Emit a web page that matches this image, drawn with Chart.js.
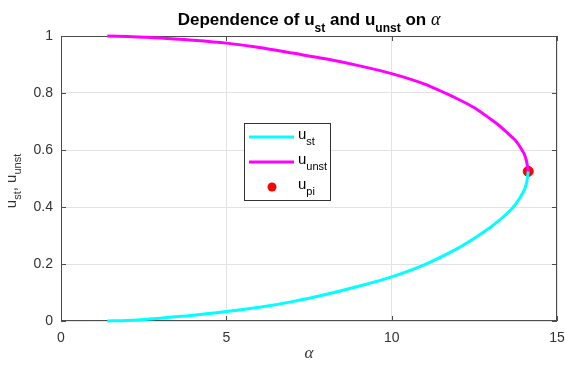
<!DOCTYPE html>
<html>
<head>
<meta charset="utf-8">
<script src="https://cdn.jsdelivr.net/npm/chart.js@4/dist/chart.umd.min.js"></script>
<style>
  html, body { margin: 0; padding: 0; background: #fff; }
  #wrap { width: 565px; height: 371px; }
</style>
</head>
<body>
<div id="wrap"><canvas id="myChart" width="565" height="371"></canvas></div>
<script>
// stable branch u_st(alpha)
let stAlpha = [1.4, 2, 3, 4, 5, 6, 7, 8, 9, 10, 11, 12, 12.5, 13, 13.25, 13.5, 13.75, 14, 14.08, 14.13];
let stU = [0, 0.002, 0.01, 0.02, 0.033, 0.048, 0.068, 0.093, 0.122, 0.155, 0.198, 0.255, 0.29, 0.33, 0.353, 0.378, 0.41, 0.457, 0.485, 0.525];
// unstable branch u_unst(alpha)
let unstAlpha = [1.4, 2, 3, 4, 5, 6, 7, 8, 9, 10, 11, 12, 12.5, 13, 13.25, 13.5, 13.75, 14, 14.08, 14.13];
let unstU = [1.0, 0.998, 0.993, 0.985, 0.975, 0.96, 0.94, 0.92, 0.896, 0.868, 0.831, 0.779, 0.748, 0.708, 0.686, 0.66, 0.633, 0.588, 0.56, 0.525];
// turning point
let piAlpha = [14.13];
let piU = [0.525];

let xTicks = [0, 5, 10, 15];
let yTicks = [0, 0.2, 0.4, 0.6, 0.8, 1];

let font = "'Liberation Sans', Arial, Helvetica, sans-serif";
let serif = "'Liberation Serif', 'DejaVu Serif', serif";
let axisColor = "#4d4d4d";
let textColor = "#333333";

function toPoints(xs, ys) {
  let pts = [];
  for (let i = 0; i < xs.length; i++) pts.push({ x: xs[i], y: ys[i] });
  return pts;
}

// draws a string made of parts, some as subscripts
function drawRich(ctx, parts, x, y, align) {
  let widths = parts.map((p) => {
    ctx.font = p.font;
    return ctx.measureText(p.t).width;
  });
  let total = widths.reduce((s, w) => s + w, 0);
  let cx = align == "center" ? x - total / 2 : x;
  ctx.textAlign = "left";
  ctx.textBaseline = "alphabetic";
  for (let i = 0; i < parts.length; i++) {
    ctx.font = parts[i].font;
    ctx.fillText(parts[i].t, cx, y + (parts[i].dy || 0));
    cx += widths[i];
  }
}

const boxPlugin = {
  id: "boxPlugin",
  beforeDatasetsDraw(chart) {
    const { ctx, chartArea: a, scales } = chart;
    ctx.save();
    ctx.strokeStyle = axisColor;
    ctx.lineWidth = 1;
    ctx.strokeRect(a.left + 0.5, a.top + 0.5, a.right - a.left - 1, a.bottom - a.top - 1);
    // inward ticks like matlab
    ctx.beginPath();
    xTicks.forEach((v) => {
      let px = Math.round(scales.x.getPixelForValue(v)) + 0.5;
      ctx.moveTo(px, a.bottom); ctx.lineTo(px, a.bottom - 5);
      ctx.moveTo(px, a.top); ctx.lineTo(px, a.top + 5);
    });
    yTicks.forEach((v) => {
      let py = Math.round(scales.y.getPixelForValue(v)) + 0.5;
      ctx.moveTo(a.left, py); ctx.lineTo(a.left + 5, py);
      ctx.moveTo(a.right, py); ctx.lineTo(a.right - 5, py);
    });
    ctx.stroke();
    ctx.restore();
  },
  afterDraw(chart) {
    const { ctx, chartArea: a } = chart;
    ctx.save();
    ctx.fillStyle = "#000";
    let cx = (a.left + a.right) / 2;

    // title
    let tb = "bold 17px " + font;
    let ts = "bold 12px " + font;
    drawRich(ctx, [
      { t: "Dependence of u", font: tb },
      { t: "st", font: ts, dy: 7 },
      { t: " and u", font: tb },
      { t: "unst", font: ts, dy: 7 },
      { t: " on ", font: tb },
      { t: "\u03b1", font: "italic 18px " + serif },
    ], cx, 25, "center");

    // x label
    ctx.fillStyle = textColor;
    drawRich(ctx, [{ t: "\u03b1", font: "italic 17px " + serif }], cx, 358, "center");

    // y label
    ctx.save();
    ctx.translate(16, 181);
    ctx.rotate(-Math.PI / 2);
    let lb = "15px " + font;
    let ls = "11px " + font;
    drawRich(ctx, [
      { t: "u", font: lb },
      { t: "st", font: ls, dy: 5 },
      { t: ", u", font: lb },
      { t: "unst", font: ls, dy: 5 },
    ], 0, 0, "center");
    ctx.restore();

    // legend
    let lx = a.left + 183, ly = a.top + 87;
    ctx.fillStyle = "#fff";
    ctx.fillRect(lx, ly, 87, 78);
    ctx.strokeStyle = "#333";
    ctx.lineWidth = 1;
    ctx.strokeRect(lx + 0.5, ly + 0.5, 86, 77);
    let entries = [
      { c: "#00ffff", sub: "st", kind: "line" },
      { c: "#ff00ff", sub: "unst", kind: "line" },
      { c: "#ff0000", sub: "pi", kind: "dot" },
    ];
    entries.forEach((e, i) => {
      let yy = ly + 14 + i * 25;
      if (e.kind == "line") {
        ctx.strokeStyle = e.c;
        ctx.lineWidth = 3;
        ctx.beginPath();
        ctx.moveTo(lx + 5, yy);
        ctx.lineTo(lx + 50, yy);
        ctx.stroke();
      } else {
        ctx.fillStyle = e.c;
        ctx.beginPath();
        ctx.arc(lx + 28, yy, 4.5, 0, Math.PI * 2);
        ctx.fill();
      }
      ctx.fillStyle = "#000";
      drawRich(ctx, [
        { t: "u", font: "15px " + font },
        { t: e.sub, font: "11px " + font, dy: 6 },
      ], lx + 54, yy + 2, "left");
    });
    ctx.restore();
  },
};

let init = () => {
  const data = {
    datasets: [
      {
        label: "u_st",
        data: toPoints(stAlpha, stU),
        showLine: true,
        borderColor: "#00ffff",
        backgroundColor: "#00ffff",
        borderWidth: 3,
        pointRadius: 0,
        tension: 0.25,
        clip: false,
      },
      {
        label: "u_unst",
        data: toPoints(unstAlpha, unstU),
        showLine: true,
        borderColor: "#ff00ff",
        backgroundColor: "#ff00ff",
        borderWidth: 3,
        pointRadius: 0,
        tension: 0.25,
        clip: false,
      },
      {
        label: "u_pi",
        data: toPoints(piAlpha, piU),
        showLine: false,
        borderColor: "#ff0000",
        backgroundColor: "#ff0000",
        pointRadius: 5,
        pointStyle: "circle",
        clip: false,
      },
    ],
  };

  const config = {
    type: "scatter",
    data,
    options: {
      responsive: false,
      animation: false,
      layout: { padding: { left: 21, right: 8, top: 36, bottom: 0 } },
      plugins: { legend: { display: false }, title: { display: false }, tooltip: { enabled: false } },
      scales: {
        x: {
          type: "linear",
          min: 0,
          max: 15,
          afterBuildTicks: (s) => { s.ticks = xTicks.map((v) => ({ value: v })); },
          afterFit: (s) => { s.height = 50; s.paddingLeft = 0; s.paddingRight = 0; },
          grid: { color: "#e3e3e3", drawTicks: false },
          border: { display: false },
          ticks: { color: textColor, font: { family: font, size: 14 }, padding: 9, maxRotation: 0 },
        },
        y: {
          type: "linear",
          min: 0,
          max: 1,
          afterBuildTicks: (s) => { s.ticks = yTicks.map((v) => ({ value: v })); },
          afterFit: (s) => { s.width = 40; s.paddingTop = 0; s.paddingBottom = 0; },
          grid: { color: "#e3e3e3", drawTicks: false },
          border: { display: false },
          ticks: {
            color: textColor,
            font: { family: font, size: 14 },
            padding: 8,
            callback: (v) => String(Math.round(v * 10) / 10),
          },
        },
      },
    },
    plugins: [boxPlugin],
  };

  chart = new Chart(document.getElementById("myChart"), config);
};
var chart;
window.onload = init;
</script>
</body>
</html>
